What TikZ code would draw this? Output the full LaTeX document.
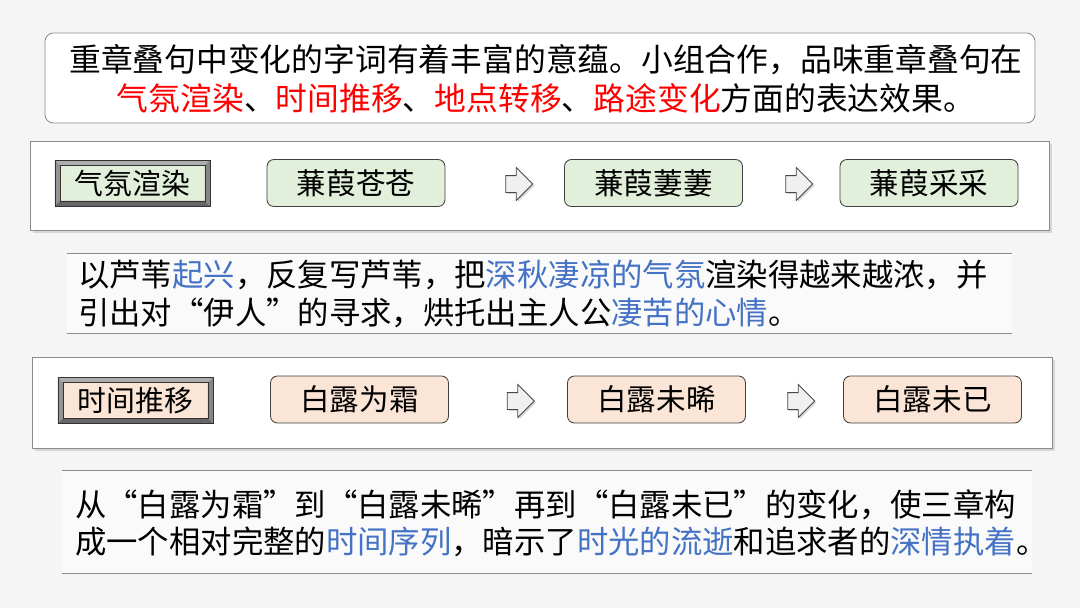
\documentclass[tikz,border=0pt]{standalone}
\usepackage{fontspec}
\setmainfont{Noto Sans CJK SC}
\usepackage{xcolor}
\usetikzlibrary{positioning,shapes.arrows,shadows}
\definecolor{leafgreen}{HTML}{E2EFDA}
\definecolor{peach}{HTML}{FBE5D6}
\definecolor{keyblue}{HTML}{4472C4}
\definecolor{keyred}{HTML}{FF0000}
\newcommand{\kb}[1]{\textcolor{keyblue}{#1}}
\newcommand{\kr}[1]{\textcolor{keyred}{#1}}
\newcommand{\bevelpic}{%
  \fill[black!32] (path picture bounding box.north west) -- (path picture bounding box.north east)
    -- ([shift={(-3.6pt,-3.6pt)}]path picture bounding box.north east) -- ([shift={(3.6pt,-3.6pt)}]path picture bounding box.north west) -- cycle;
  \fill[black!42] (path picture bounding box.north west) -- (path picture bounding box.south west)
    -- ([shift={(3.6pt,3.6pt)}]path picture bounding box.south west) -- ([shift={(3.6pt,-3.6pt)}]path picture bounding box.north west) -- cycle;
  \fill[black!60] (path picture bounding box.south west) -- (path picture bounding box.south east)
    -- ([shift={(-3.6pt,3.6pt)}]path picture bounding box.south east) -- ([shift={(3.6pt,3.6pt)}]path picture bounding box.south west) -- cycle;
  \fill[black!48] (path picture bounding box.north east) -- (path picture bounding box.south east)
    -- ([shift={(-3.6pt,3.6pt)}]path picture bounding box.south east) -- ([shift={(-3.6pt,-3.6pt)}]path picture bounding box.north east) -- cycle;
  \draw[black!80, line width=0.6pt] ([shift={(3.6pt,-3.6pt)}]path picture bounding box.north west) rectangle ([shift={(-3.6pt,3.6pt)}]path picture bounding box.south east);
}

\begin{document}
\begin{tikzpicture}[
  x=0.025cm, y=-0.025cm,
  panel/.style={draw=black!45, line width=0.6pt, fill=white, drop shadow={opacity=0.25, shadow xshift=2pt, shadow yshift=-2pt}},
  label/.style={draw=black!80, line width=0.6pt, minimum width=3.875cm, minimum height=1.15cm, inner sep=0pt, font=\fontsize{20.5}{24}\selectfont, path picture={\bevelpic}},
  phrase/.style={draw=black!75, line width=0.6pt, rounded corners=5pt, minimum width=4.45cm, minimum height=1.175cm, inner sep=0pt, font=\fontsize{21}{24}\selectfont},
  step arrow/.style={single arrow, draw=black!72, line width=0.6pt, fill=black!6, inner xsep=0pt, inner ysep=0.2cm, minimum height=0.675cm, single arrow head extend=0.2cm, drop shadow={opacity=0.3, shadow xshift=1.2pt, shadow yshift=-1.2pt}},
  rule/.style={draw=black!45, line width=0.7pt},
  para/.style={align=left, inner sep=0pt, font=\fontsize{22.3}{27}\selectfont},
]

% background
\fill[black!4] (0,0) rectangle (1080,608);

% task box
\draw[draw=black!45, line width=0.6pt, fill=white, rounded corners=6pt] (45,33) rectangle (1035,123);
\node[para, align=center, font=\fontsize{22.6}{27.5}\selectfont] (task) at (546,79)
  {重章叠句中变化的字词有着丰富的意蕴。小组合作，品味重章叠句在\\
   \kr{气氛渲染}、\kr{时间推移}、\kr{地点转移}、\kr{路途变化}方面的表达效果。};

% panel 1: atmosphere
\draw[panel] (30,141) rectangle (1049,230);
\node[label, fill=leafgreen] (mood) at (132.5,183) {气氛渲染};
\node[phrase, fill=leafgreen] (cang) at (356,183) {蒹葭苍苍};
\node[phrase, fill=leafgreen] (qi) at (653.5,183) {蒹葭萋萋};
\node[phrase, fill=leafgreen] (cai) at (929,183) {蒹葭采采};
\node[step arrow] (a1) at (515,184) {};
\node[step arrow] (a2) at (795,184) {};

% comment 1
\fill[white, opacity=0.5] (67,253) rectangle (1012,333);
\draw[rule] (67,253) -- (1012,253);
\draw[rule] (67,333) -- (1012,333);
\node[para, anchor=west] (note1) at (78,294)
  {以芦苇\kb{起兴}，反复写芦苇，把\kb{深秋凄凉的气氛}渲染得越来越浓，并\\
   引出对“伊人”的寻求，烘托出主人公\kb{凄苦的心情}。};

% panel 2: time
\draw[panel] (32,357) rectangle (1052,448);
\node[label, fill=peach] (time) at (135.5,400.5) {时间推移};
\node[phrase, fill=peach] (shuang) at (359.5,399.5) {白露为霜};
\node[phrase, fill=peach] (xi) at (656.5,399.5) {白露未晞};
\node[phrase, fill=peach] (yi) at (932.5,399.5) {白露未已};
\node[step arrow] (b1) at (516.5,401) {};
\node[step arrow] (b2) at (797,401) {};

% comment 2
\fill[white, opacity=0.5] (62,470) rectangle (1032,573);
\draw[rule] (62,470) -- (1032,470);
\draw[rule] (62,573) -- (1032,573);
\node[para, anchor=west, font=\fontsize{22.3}{26}\selectfont] (note2) at (75,523)
  {从“白露为霜”到“白露未晞”再到“白露未已”的变化，使三章构\\
   成一个相对完整的\kb{时间序列}，暗示了\kb{时光的流逝}和追求者的\kb{深情执着}。};

\end{tikzpicture}
\end{document}
